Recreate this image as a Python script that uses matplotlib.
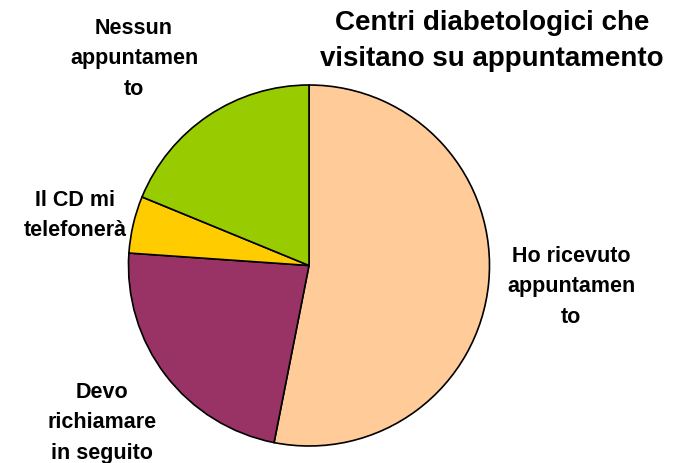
import numpy as np
import matplotlib.pyplot as plt

plt.rcParams['font.family'] = ['Liberation Sans', 'DejaVu Sans']

labels = ["Ho ricevuto\nappuntamen\nto",
          "Devo\nrichiamare\nin seguito",
          "Il CD mi\ntelefonerà",
          "Nessun\nappuntamen\nto"]
values = [53.1, 23.0, 5.1, 18.8]
colors = ["#FFCC99", "#993366", "#FFCC00", "#99CC00"]

# label placement: radius factor and angular nudge (deg) per slice
label_dist = [1.457, 1.44, 1.326, 1.50]
label_turn = [0.9, -0.2, 1.1, 6.4]

fig = plt.figure(figsize=(6.79, 4.63), dpi=100)
ax = fig.add_axes([0, 0, 1, 1])

cx, cy, r = 309, 197.5, 180.5
wedges, texts = ax.pie(values, colors=colors, labels=labels, startangle=90,
                       counterclock=False, center=(cx, cy), radius=r,
                       wedgeprops=dict(edgecolor='black', linewidth=1.2),
                       textprops=dict(fontsize=15.5, fontweight='bold'),
                       frame=True)
ax.set_xlim(0, 679)
ax.set_ylim(0, 463)
ax.set_aspect('equal')
ax.axis('off')

for w, t, d, turn in zip(wedges, texts, label_dist, label_turn):
    ang = np.deg2rad((w.theta1 + w.theta2) / 2 + turn)
    t.set_position((cx + d * r * np.cos(ang), cy + d * r * np.sin(ang)))
    t.set_ha('center')
    t.set_va('center')
    t.set_multialignment('center')
    t.set_linespacing(1.6)

fig.text(492 / 679, 1 - 41 / 463, "Centri diabetologici che\nvisitano su appuntamento",
         ha='center', va='center', fontsize=20, fontweight='bold',
         linespacing=1.45)

fig.savefig("out.png", dpi=100)
